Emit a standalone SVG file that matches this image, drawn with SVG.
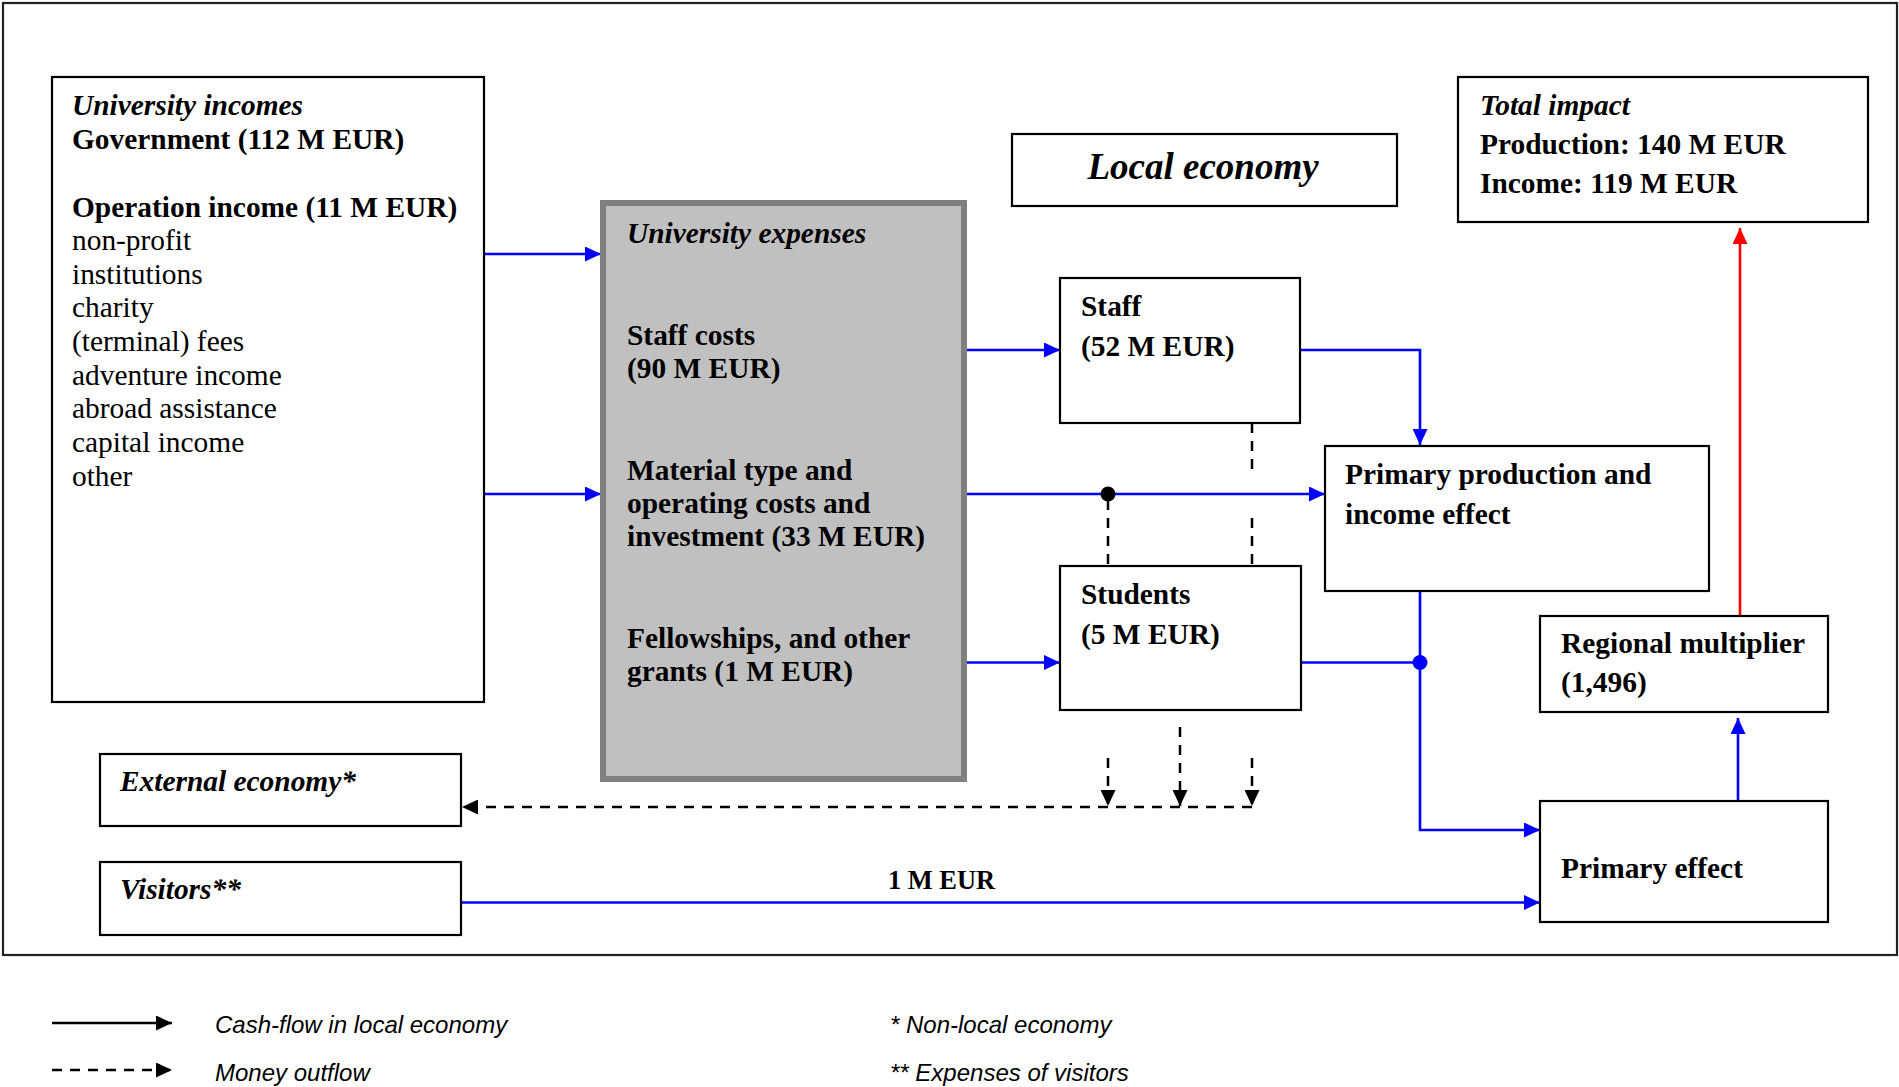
<svg xmlns="http://www.w3.org/2000/svg" width="1899" height="1087" viewBox="0 0 1899 1087">
<style>
  .box { fill: #ffffff; stroke: #000000; stroke-width: 2.2; }
  .gray { fill: #c0c0c0; stroke: #808080; stroke-width: 6; }
  .t { font-family: "Liberation Serif", "Times New Roman", serif; font-size: 29.4px; fill: #000; }
  .b { font-weight: bold; }
  .bi { font-weight: bold; font-style: italic; }
  .big { font-size: 37px; }
  .lab { font-family: "Liberation Serif", "Times New Roman", serif; font-size: 26.4px; font-weight: bold; fill: #000; }
  .leg { font-family: "Liberation Sans", Arial, sans-serif; font-size: 24px; font-style: italic; fill: #000; }
  .blue { fill: none; stroke: #0000ff; stroke-width: 2.6; }
  .red { fill: none; stroke: #ff0000; stroke-width: 2.6; }
  .dash { fill: none; stroke: #000; stroke-width: 2.5; stroke-dasharray: 10 8; }
  .solid { fill: none; stroke: #000; stroke-width: 2.5; }
</style>
<defs>
  <marker id="ab" markerUnits="userSpaceOnUse" markerWidth="16" markerHeight="15" refX="16" refY="7.5" orient="auto">
    <path d="M0,0 L16,7.5 L0,15 z" fill="#0000ff"/>
  </marker>
  <marker id="ar" markerUnits="userSpaceOnUse" markerWidth="16" markerHeight="15" refX="16" refY="7.5" orient="auto">
    <path d="M0,0 L16,7.5 L0,15 z" fill="#ff0000"/>
  </marker>
  <marker id="ak" markerUnits="userSpaceOnUse" markerWidth="16" markerHeight="15" refX="16" refY="7.5" orient="auto">
    <path d="M0,0 L16,7.5 L0,15 z" fill="#000000"/>
  </marker>
</defs>
<rect x="0" y="0" width="1899" height="1087" fill="#ffffff"/>
<rect x="3" y="3" width="1894" height="952" fill="none" stroke="#222" stroke-width="2.2"/>

<g id="connectors">
  <line class="blue" x1="484" y1="254" x2="601" y2="254" marker-end="url(#ab)"/>
  <line class="blue" x1="484" y1="494" x2="601" y2="494" marker-end="url(#ab)"/>
  <line class="blue" x1="967" y1="350" x2="1060" y2="350" marker-end="url(#ab)"/>
  <line class="blue" x1="967" y1="494" x2="1325" y2="494" marker-end="url(#ab)"/>
  <line class="blue" x1="967" y1="662.5" x2="1060" y2="662.5" marker-end="url(#ab)"/>
  <polyline class="blue" points="1301,350 1420,350 1420,445" marker-end="url(#ab)"/>
  <line class="blue" x1="1301" y1="662.5" x2="1420" y2="662.5"/>
  <polyline class="blue" points="1420,591 1420,830 1540,830" marker-end="url(#ab)"/>
  <line class="blue" x1="461" y1="902.5" x2="1540" y2="902.5" marker-end="url(#ab)"/>
  <line class="blue" x1="1738" y1="801" x2="1738" y2="718" marker-end="url(#ab)"/>
  <line class="red" x1="1740" y1="616" x2="1740" y2="228" marker-end="url(#ar)"/>
  <circle cx="1108" cy="494" r="7.5" fill="#000"/>
  <circle cx="1420" cy="662.5" r="7.5" fill="#0000ff"/>
  <line class="dash" x1="1108" y1="500" x2="1108" y2="566"/>
  <line class="dash" x1="1252" y1="423" x2="1252" y2="471"/>
  <line class="dash" x1="1252" y1="518" x2="1252" y2="566"/>
  <line class="dash" x1="1108" y1="758" x2="1108" y2="806" marker-end="url(#ak)"/>
  <line class="dash" x1="1180" y1="727" x2="1180" y2="806" marker-end="url(#ak)"/>
  <line class="dash" x1="1252" y1="758" x2="1252" y2="806" marker-end="url(#ak)"/>
  <line class="dash" x1="1252" y1="807" x2="462" y2="807" marker-end="url(#ak)"/>
  <text class="lab" x="888" y="889">1 M EUR</text>
</g>

<g id="university-incomes">
  <rect class="box" x="52" y="77" width="432" height="625"/>
  <text class="t bi" x="72" y="115">University incomes</text>
  <text class="t b" x="72" y="149">Government (112 M EUR)</text>
  <text class="t b" x="72" y="217">Operation income (11 M EUR)</text>
  <text class="t" x="72" y="250">non-profit</text>
  <text class="t" x="72" y="284">institutions</text>
  <text class="t" x="72" y="317">charity</text>
  <text class="t" x="72" y="351">(terminal) fees</text>
  <text class="t" x="72" y="385">adventure income</text>
  <text class="t" x="72" y="418">abroad assistance</text>
  <text class="t" x="72" y="452">capital income</text>
  <text class="t" x="72" y="486">other</text>
</g>

<g id="university-expenses">
  <rect class="gray" x="603" y="203" width="361" height="576"/>
  <text class="t bi" x="627" y="243">University expenses</text>
  <text class="t b" x="627" y="345">Staff costs</text>
  <text class="t b" x="627" y="378">(90 M EUR)</text>
  <text class="t b" x="627" y="480">Material type and</text>
  <text class="t b" x="627" y="513">operating costs and</text>
  <text class="t b" x="627" y="546">investment (33 M EUR)</text>
  <text class="t b" x="627" y="648">Fellowships, and other</text>
  <text class="t b" x="627" y="681">grants (1 M EUR)</text>
</g>

<g id="local-economy">
  <rect class="box" x="1012" y="134" width="385" height="72"/>
  <text class="t bi big" x="1203" y="179" text-anchor="middle">Local economy</text>
</g>

<g id="total-impact">
  <rect class="box" x="1458" y="77" width="410" height="145"/>
  <text class="t bi" x="1480" y="115">Total impact</text>
  <text class="t b" x="1480" y="154">Production: 140 M EUR</text>
  <text class="t b" x="1480" y="193">Income: 119 M EUR</text>
</g>

<g id="staff">
  <rect class="box" x="1060" y="278" width="240" height="145"/>
  <text class="t b" x="1081" y="316">Staff</text>
  <text class="t b" x="1081" y="356">(52 M EUR)</text>
</g>

<g id="primary-production">
  <rect class="box" x="1325" y="446" width="384" height="145"/>
  <text class="t b" x="1345" y="484">Primary production and</text>
  <text class="t b" x="1345" y="524">income effect</text>
</g>

<g id="students">
  <rect class="box" x="1060" y="566" width="241" height="144"/>
  <text class="t b" x="1081" y="604">Students</text>
  <text class="t b" x="1081" y="644">(5 M EUR)</text>
</g>

<g id="regional-multiplier">
  <rect class="box" x="1540" y="616" width="288" height="96"/>
  <text class="t b" x="1561" y="653">Regional multiplier</text>
  <text class="t b" x="1561" y="692">(1,496)</text>
</g>

<g id="primary-effect">
  <rect class="box" x="1540" y="801" width="288" height="121"/>
  <text class="t b" x="1561" y="878">Primary effect</text>
</g>

<g id="external-economy">
  <rect class="box" x="100" y="754" width="361" height="72"/>
  <text class="t bi" x="120" y="791">External economy*</text>
</g>

<g id="visitors">
  <rect class="box" x="100" y="862" width="361" height="73"/>
  <text class="t bi" x="120" y="899">Visitors**</text>
</g>

<g id="legend">
  <line class="solid" x1="52" y1="1023" x2="172" y2="1023" marker-end="url(#ak)"/>
  <line class="dash" x1="52" y1="1070" x2="172" y2="1070" marker-end="url(#ak)"/>
  <text class="leg" x="215" y="1033">Cash-flow in local economy</text>
  <text class="leg" x="215" y="1081">Money outflow</text>
  <text class="leg" x="890" y="1033">* Non-local economy</text>
  <text class="leg" x="890" y="1081">** Expenses of visitors</text>
</g>
</svg>
